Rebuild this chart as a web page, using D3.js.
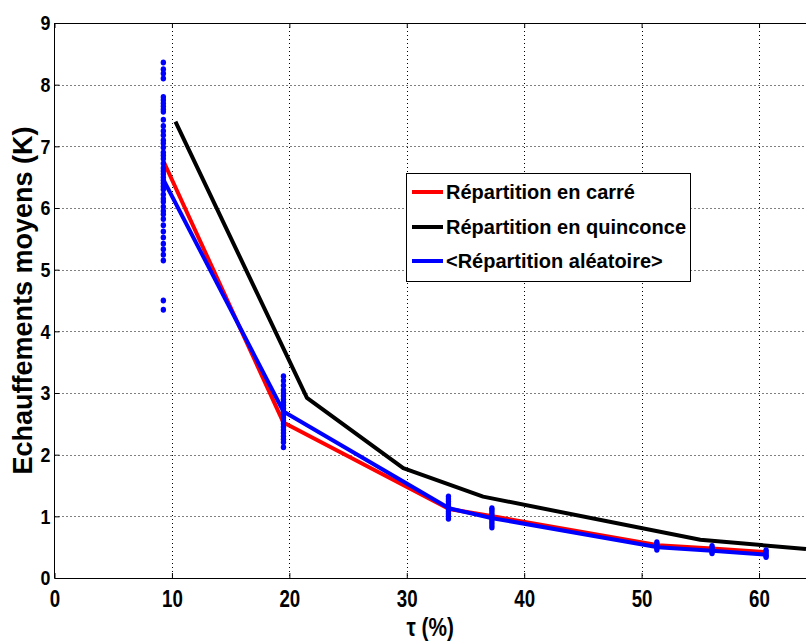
<!DOCTYPE html>
<html><head><meta charset="utf-8">
<script src="https://cdn.jsdelivr.net/npm/d3@7"></script>
<style>body{margin:0;background:#fff}svg{display:block}</style>
</head><body>
<script>
// ---- data ----
const xTicks = [0,10,20,30,40,50,60];
const yTicks = [0,1,2,3,4,5,6,7,8,9];
const seriesNames = ["Répartition en carré","Répartition en quinconce","<Répartition aléatoire>"];
const seriesColors = ["#ff0000","#000000","#0000ff"];
const carreX = [9.3,19.5,33.6,37.3,51.4,56.0,60.6];
const carreY = [6.75,2.52,1.12,1.00,0.53,0.48,0.42];
const quinconceX = [10.3,21.5,29.7,36.5,55.0,64.0];
const quinconceY = [7.40,2.92,1.78,1.32,0.62,0.47];
const aleaX = [9.3,19.5,33.6,37.3,51.4,56.0,60.6];
const aleaY = [6.45,2.70,1.13,0.97,0.50,0.44,0.38];
const scatterX = [9.27,19.5,33.55,37.25,51.3,56.0,60.6];
const scatterY = [
  [8.36,8.25,8.18,8.10,7.80,7.75,7.70,7.65,7.60,7.56,7.43,7.33,7.25,7.18,7.10,7.05,6.98,6.90,6.85,6.80,6.72,6.65,6.60,6.55,6.50,6.45,6.40,6.35,6.30,6.22,6.15,6.10,6.02,5.95,5.90,5.82,5.72,5.62,5.52,5.42,5.33,5.24,5.15,4.50,4.35],
  [3.27,3.20,3.12,3.05,3.00,2.95,2.90,2.85,2.80,2.75,2.70,2.65,2.60,2.55,2.50,2.45,2.40,2.35,2.30,2.25,2.20,2.12],
  [1.32,1.28,1.24,1.20,1.16,1.12,1.08,1.04,1.00,0.96],
  [1.13,1.10,1.06,1.02,0.98,0.94,0.90,0.86,0.82],
  [0.58,0.55,0.52,0.49,0.46],
  [0.52,0.49,0.46,0.43,0.40],
  [0.45,0.42,0.39,0.36,0.34]
];

// ---- chart ----
const W = 807, H = 643;
const svg = d3.select("body").append("svg").attr("width", W).attr("height", H);
const x = d3.scaleLinear().domain([0,64]).range([54.5,806]);
const y = d3.scaleLinear().domain([0,9]).range([578,23]);
const sans = "'Liberation Sans',Arial,sans-serif";

// grid
const grid = svg.append("g").attr("stroke","#000").attr("stroke-width",1).attr("stroke-dasharray","1,3");
grid.selectAll("line.v").data(xTicks.filter(d=>d>0)).join("line")
  .attr("x1",d=>Math.round(x(d))+0.5).attr("x2",d=>Math.round(x(d))+0.5)
  .attr("y1",y(9)).attr("y2",y(0));
grid.selectAll("line.h").data(yTicks.filter(d=>d>0&&d<9)).join("line")
  .attr("x1",x(0)).attr("x2",x(64))
  .attr("y1",d=>Math.round(y(d))+0.5).attr("y2",d=>Math.round(y(d))+0.5);

// axes
const xAxis = d3.axisBottom(x).tickValues(xTicks).tickSize(-5).tickPadding(12).tickFormat(d3.format("d"));
const yAxis = d3.axisLeft(y).tickValues(yTicks).tickSize(-5).tickPadding(4).tickFormat(d3.format("d"));
const gx = svg.append("g").attr("transform",`translate(0,${y(0)})`).call(xAxis);
const gy = svg.append("g").attr("transform",`translate(${x(0)},0)`).call(yAxis);
gx.select(".domain").remove(); gy.select(".domain").remove();
gx.selectAll("line").attr("stroke","#000");
gy.selectAll("line").attr("stroke","#000");
gx.selectAll("text").attr("font-family",sans).attr("font-weight","bold").attr("font-size",24)
  .attr("fill","#000").attr("dy","0.71em").attr("transform","scale(0.78,1)");
gy.selectAll("text").attr("font-family",sans).attr("font-weight","bold").attr("font-size",21)
  .attr("fill","#000").attr("x",-4/0.85).attr("transform","scale(0.85,1)");
// top ticks
const gt = svg.append("g").attr("transform",`translate(0,${y(9)})`).call(d3.axisTop(x).tickValues(xTicks).tickSize(-5).tickFormat(""));
gt.select(".domain").remove(); gt.selectAll("line").attr("stroke","#000");

// box lines
svg.append("line").attr("x1",x(0)).attr("x2",x(64)).attr("y1",y(0)+0.5).attr("y2",y(0)+0.5).attr("stroke","#000");
svg.append("line").attr("x1",x(0)).attr("x2",x(64)).attr("y1",y(9)+0.5).attr("y2",y(9)+0.5).attr("stroke","#000");
svg.append("line").attr("x1",x(0)).attr("x2",x(0)).attr("y1",y(0)).attr("y2",y(9)).attr("stroke","#000");

// lines
const line = d3.line().x(d=>x(d[0])).y(d=>y(d[1]));
const seriesData = [
  d3.zip(carreX, carreY),
  d3.zip(quinconceX, quinconceY),
  d3.zip(aleaX, aleaY)
];
svg.append("g").selectAll("path").data(seriesData).join("path")
  .attr("d", line).attr("fill","none")
  .attr("stroke",(d,i)=>seriesColors[i]).attr("stroke-width",4)
  .attr("stroke-linejoin","round");

// scatter
const pts = [];
scatterX.forEach((sx,i)=>scatterY[i].forEach(v=>pts.push([sx,v])));
svg.append("g").selectAll("ellipse").data(pts).join("ellipse")
  .attr("cx",d=>x(d[0])).attr("cy",d=>y(d[1])).attr("rx",2.7).attr("ry",3).attr("fill","#0000ff");

// legend
const lg = svg.append("g");
lg.append("rect").attr("x",406.5).attr("y",173.5).attr("width",284).attr("height",108)
  .attr("fill","#fff").attr("stroke","#000").attr("stroke-width",1);
const rowsY = [192,227,261];
seriesNames.forEach((n,i)=>{
  lg.append("line").attr("x1",412).attr("x2",443).attr("y1",rowsY[i]).attr("y2",rowsY[i])
    .attr("stroke",seriesColors[i]).attr("stroke-width",4);
  lg.append("text").attr("x",446).attr("y",rowsY[i]).attr("dy","0.36em")
    .attr("font-family",sans).attr("font-weight","bold").attr("font-size",20).attr("fill","#000").text(n);
});

// axis labels
svg.append("text").attr("transform",`translate(32,${(y(0)+y(9))/2}) rotate(-90)`)
  .attr("text-anchor","middle").attr("font-family",sans).attr("font-weight","bold").attr("font-size",27)
  .attr("fill","#000").text("Echauffements moyens (K)");
svg.append("text").attr("transform",`translate(${(x(0)+x(64))/2},636) scale(0.8,1)`).attr("text-anchor","middle")
  .attr("font-family",sans).attr("font-weight","bold").attr("font-size",26).attr("fill","#000").text("τ (%)");
</script>
</body></html>
